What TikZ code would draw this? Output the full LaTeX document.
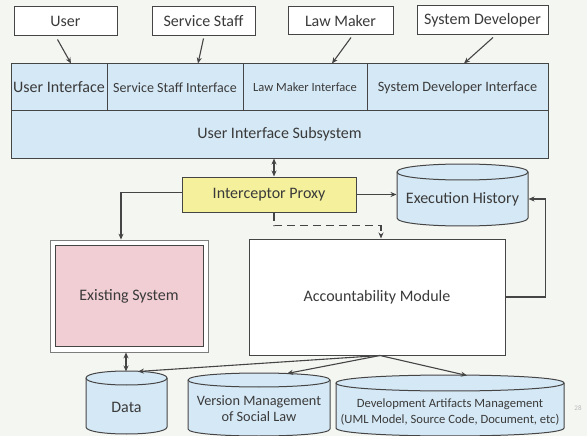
\documentclass[tikz,border=0pt]{standalone}
\usepackage{fontspec}
\setmainfont{Carlito}
\usetikzlibrary{arrows.meta}
\definecolor{bgc}{HTML}{F4F6F2}
\definecolor{linec}{HTML}{454545}
\definecolor{txtc}{HTML}{3A3A3A}
\definecolor{bluec}{HTML}{D5E8F5}
\definecolor{yellowc}{HTML}{F4F09B}
\definecolor{pinkc}{HTML}{F1CDD4}
% cylinder: x left, x right, centre line of top ellipse, centre line of bottom ellipse, y radius
\newcommand\cylshape[5]{%
  \filldraw[fill=bluec,draw=linec] (#1,#3) -- (#1,#4)
    .. controls (#1,#4+1.333*#5) and (#2,#4+1.333*#5) .. (#2,#4) -- (#2,#3)
    .. controls (#2,#3-1.333*#5) and (#1,#3-1.333*#5) .. (#1,#3) -- cycle;
  \draw[linec] (#1,#3) .. controls (#1,#3+1.333*#5) and (#2,#3+1.333*#5) .. (#2,#3);
}
\begin{document}
\begin{tikzpicture}[x=1pt,y=-1pt,line width=1pt,
  >={Stealth[length=6pt,width=5pt]},
  every node/.style={text=txtc,inner sep=0pt},
  box/.style={draw=linec,rectangle,fill=white},
  bluebox/.style={box,fill=bluec},
  conn/.style={draw=linec,line width=1.1pt},
  big/.style={font=\fontsize{16}{18}\selectfont},
  mid/.style={font=\fontsize{14.3}{16}\selectfont},
  small/.style={font=\fontsize{14}{16}\selectfont},
  tiny/.style={font=\fontsize{12.5}{14}\selectfont},
  note/.style={font=\fontsize{12.6}{15.5}\selectfont}]
\fill[bgc] (0,0) rectangle (587,436);
\useasboundingbox (0,0) rectangle (587,436);

% actors
\node[box,big,minimum width=103pt,minimum height=29pt] (user) at (65.5,21.5) {User};
\node[box,big,minimum width=103pt,minimum height=29pt] (staff) at (203.5,21.5) {Service Staff};
\node[box,big,minimum width=105pt,minimum height=28pt] (maker) at (340.5,21) {Law Maker};
\node[box,big,minimum width=131pt,minimum height=29pt] (dev) at (482.5,20.5) {System Developer};

% interface layer
\node[bluebox,big,minimum width=96pt,minimum height=47pt] (ui) at (59,87.5) {User Interface};
\node[bluebox,small,minimum width=136pt,minimum height=47pt] (ssi) at (175,87.5) {Service Staff Interface};
\node[bluebox,tiny,minimum width=124pt,minimum height=47pt] (lmi) at (305,87.5) {Law Maker Interface};
\node[bluebox,mid,minimum width=181pt,minimum height=47pt] (sdi) at (457.5,87.5) {System Developer Interface};
\node[bluebox,big,minimum width=537pt,minimum height=47pt] (sub) at (279.5,134.5) {User Interface Subsystem};

% middle layer
\node[box,fill=yellowc,big,minimum width=174pt,minimum height=35pt] (proxy) at (269,194.5) {Interceptor Proxy};
\cylshape{397}{528}{172}{218}{8}
\node[big,minimum width=131pt,minimum height=46pt] (hist) at (462.5,199) {Execution History};

\node[draw=linec!70,line width=0.8pt,fill=white,minimum width=158pt,minimum height=112pt] (esout) at (129,296) {};
\node[box,fill=pinkc,big,minimum width=148pt,minimum height=101pt] (es) at (129,296) {Existing System};
\node[box,big,minimum width=256pt,minimum height=116pt] (am) at (377,297) {Accountability Module};

% storage
\cylshape{86}{167}{378}{427}{7}
\node[big] (data) at (126.5,407) {Data};
\cylshape{188}{330}{380}{429}{7}
\node[mid,align=center] (ver) at (259,409) {Version Management\\of Social Law};
\cylshape{336}{564}{383}{428}{8}
\node[note,align=center] (art) at (450,412) {Development Artifacts Management\\(UML Model, Source Code, Document, etc)};
\coordinate (datatop) at (138,371.5);
\coordinate (vertop) at (287,373.5);
\coordinate (arttop) at (467,375.5);

\node[font=\fontsize{7}{8}\selectfont,text=gray!55] (page) at (578,408) {28};

% connectors
\draw[conn,->] ([xshift=-8pt,yshift=-3pt]user.south) -- ([xshift=12pt]ui.north);
\draw[conn,->] ([yshift=-2pt]staff.south) -- ([xshift=23pt]ssi.north);
\draw[conn,->] ([xshift=10.5pt,yshift=-2pt]maker.south) -- ([xshift=27pt]lmi.north);
\draw[conn,->] ([xshift=10.5pt,yshift=-2pt]dev.south) -- ([xshift=6.5pt]sdi.north);

\draw[conn,<->] ([xshift=5pt]proxy.north |- sub.south) -- ([xshift=5pt]proxy.north);
\draw[conn,->] (proxy.east) -- (proxy.east -| hist.west);
\draw[conn,->] ([yshift=2pt]proxy.west) -| ([xshift=-8pt]esout.north);
\draw[conn,->,dash pattern=on 8pt off 5pt] ([xshift=5pt]proxy.south) -- ++(0,13) -| ([xshift=4pt]am.north);
\draw[conn,->] (am.east) -- ++(40,0) |- (hist.east);

\draw[conn,<->] ([xshift=-3pt]esout.south) -- ([xshift=-3pt]esout.south |- datatop);
\draw[conn,->] ([xshift=3pt]am.south) -- (datatop);
\draw[conn,->] ([xshift=3pt]am.south) -- (vertop);
\draw[conn,->] ([xshift=3pt]am.south) -- (arttop);
\end{tikzpicture}
\end{document}
